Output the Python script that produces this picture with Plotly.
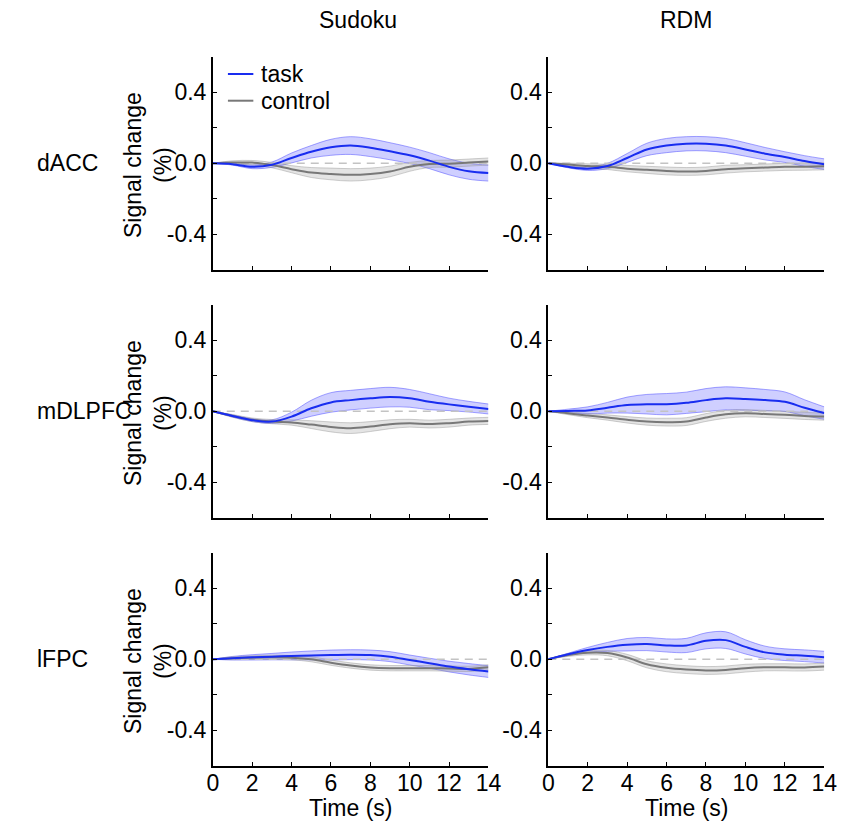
import plotly.graph_objects as go

# Time axis (s) and tick labels
time = list(range(15))
x_ticks = [0, 2, 4, 6, 8, 10, 12, 14]
y_ticks = [-0.4, -0.2, 0.0, 0.2, 0.4]
y_tick_labels = ["-0.4", "", "0.0", "", "0.4"]

tasks = ["Sudoku", "RDM"]
regions = ["dACC", "mDLPFC", "lFPC"]
series_names = ["task", "control"]

# dACC
dacc_sudoku_task = [0, -0.005, -0.02, -0.008, 0.03, 0.065, 0.09, 0.10, 0.088, 0.068, 0.045, 0.015, -0.02, -0.045, -0.055]
dacc_sudoku_task_sem = [0, 0.005, 0.01, 0.015, 0.028, 0.035, 0.045, 0.05, 0.05, 0.048, 0.046, 0.045, 0.045, 0.045, 0.045]
dacc_sudoku_ctrl = [0, 0.004, 0.004, -0.01, -0.033, -0.052, -0.06, -0.065, -0.06, -0.046, -0.02, -0.004, -0.002, 0.004, 0.01]
dacc_sudoku_ctrl_sem = [0, 0.01, 0.012, 0.015, 0.02, 0.028, 0.033, 0.035, 0.033, 0.03, 0.025, 0.02, 0.02, 0.02, 0.02]

dacc_rdm_task = [0, -0.02, -0.03, -0.015, 0.03, 0.078, 0.10, 0.11, 0.11, 0.10, 0.078, 0.054, 0.035, 0.013, -0.005]
dacc_rdm_task_sem = [0, 0.005, 0.01, 0.015, 0.025, 0.035, 0.04, 0.04, 0.04, 0.04, 0.038, 0.035, 0.03, 0.03, 0.03]
dacc_rdm_ctrl = [0, -0.007, -0.015, -0.02, -0.03, -0.037, -0.043, -0.046, -0.043, -0.033, -0.028, -0.024, -0.02, -0.019, -0.017]
dacc_rdm_ctrl_sem = [0, 0.008, 0.012, 0.015, 0.018, 0.02, 0.022, 0.022, 0.022, 0.022, 0.02, 0.02, 0.02, 0.02, 0.02]

# mDLPFC
mdlpfc_sudoku_task = [0, -0.026, -0.05, -0.058, -0.03, 0.017, 0.05, 0.063, 0.073, 0.08, 0.073, 0.054, 0.039, 0.026, 0.013]
mdlpfc_sudoku_task_sem = [0, 0.006, 0.008, 0.01, 0.025, 0.045, 0.055, 0.055, 0.055, 0.055, 0.05, 0.045, 0.035, 0.03, 0.028]
mdlpfc_sudoku_ctrl = [0, -0.026, -0.048, -0.058, -0.063, -0.075, -0.088, -0.095, -0.086, -0.073, -0.067, -0.072, -0.067, -0.058, -0.054]
mdlpfc_sudoku_ctrl_sem = [0, 0.008, 0.01, 0.012, 0.015, 0.022, 0.028, 0.03, 0.028, 0.025, 0.022, 0.022, 0.022, 0.02, 0.02]

mdlpfc_rdm_task = [0, 0.002, 0.005, 0.02, 0.035, 0.04, 0.04, 0.048, 0.063, 0.073, 0.069, 0.063, 0.054, 0.02, -0.01]
mdlpfc_rdm_task_sem = [0, 0.01, 0.02, 0.03, 0.045, 0.055, 0.06, 0.06, 0.065, 0.065, 0.063, 0.06, 0.055, 0.045, 0.035]
mdlpfc_rdm_ctrl = [0, -0.011, -0.024, -0.035, -0.048, -0.058, -0.061, -0.058, -0.035, -0.017, -0.011, -0.015, -0.02, -0.026, -0.03]
mdlpfc_rdm_ctrl_sem = [0, 0.008, 0.012, 0.015, 0.018, 0.02, 0.022, 0.022, 0.022, 0.022, 0.02, 0.02, 0.02, 0.02, 0.02]

# lFPC
lfpc_sudoku_task = [0, 0.006, 0.011, 0.015, 0.019, 0.022, 0.024, 0.026, 0.024, 0.015, -0.004, -0.022, -0.041, -0.056, -0.069]
lfpc_sudoku_task_sem = [0, 0.01, 0.015, 0.018, 0.022, 0.025, 0.028, 0.028, 0.028, 0.028, 0.028, 0.028, 0.03, 0.032, 0.033]
lfpc_sudoku_ctrl = [0, 0.006, 0.009, 0.011, 0.009, 0.0, -0.019, -0.035, -0.046, -0.05, -0.05, -0.05, -0.052, -0.054, -0.045]
lfpc_sudoku_ctrl_sem = [0, 0.008, 0.01, 0.012, 0.012, 0.014, 0.015, 0.015, 0.015, 0.015, 0.015, 0.015, 0.015, 0.015, 0.015]

lfpc_rdm_task = [0, 0.028, 0.052, 0.07, 0.082, 0.086, 0.078, 0.078, 0.104, 0.108, 0.07, 0.039, 0.026, 0.02, 0.012]
lfpc_rdm_task_sem = [0, 0.006, 0.015, 0.025, 0.035, 0.037, 0.037, 0.04, 0.045, 0.047, 0.04, 0.035, 0.033, 0.033, 0.033]
lfpc_rdm_ctrl = [0, 0.024, 0.037, 0.035, 0.01, -0.028, -0.048, -0.058, -0.063, -0.06, -0.05, -0.045, -0.045, -0.046, -0.041]
lfpc_rdm_ctrl_sem = [0, 0.008, 0.012, 0.015, 0.018, 0.02, 0.022, 0.022, 0.022, 0.022, 0.022, 0.02, 0.02, 0.02, 0.02]

panels = [
    (dacc_sudoku_task, dacc_sudoku_task_sem, dacc_sudoku_ctrl, dacc_sudoku_ctrl_sem),
    (dacc_rdm_task, dacc_rdm_task_sem, dacc_rdm_ctrl, dacc_rdm_ctrl_sem),
    (mdlpfc_sudoku_task, mdlpfc_sudoku_task_sem, mdlpfc_sudoku_ctrl, mdlpfc_sudoku_ctrl_sem),
    (mdlpfc_rdm_task, mdlpfc_rdm_task_sem, mdlpfc_rdm_ctrl, mdlpfc_rdm_ctrl_sem),
    (lfpc_sudoku_task, lfpc_sudoku_task_sem, lfpc_sudoku_ctrl, lfpc_sudoku_ctrl_sem),
    (lfpc_rdm_task, lfpc_rdm_task_sem, lfpc_rdm_ctrl, lfpc_rdm_ctrl_sem),
]

W, H = 849, 822
FONT = "Liberation Sans, Arial, Helvetica, sans-serif"
FS = 23

TASK_LINE = "rgb(25,45,240)"
TASK_FILL = "rgba(70,70,255,0.26)"
TASK_EDGE = "rgba(90,90,255,0.55)"
CTRL_LINE = "rgb(120,120,120)"
CTRL_FILL = "rgba(150,150,150,0.26)"
CTRL_EDGE = "rgba(150,150,150,0.45)"
ZERO_LINE = "rgb(195,195,195)"

# plot-area boxes in pixels
col_px = [(211.5, 493.5), (554.7, 837.0)]
row_px = [(56.8, 269.8), (304.8, 517.8), (552.8, 765.8)]
title_cx = [360, 696]
xlabel_cx = [352.5, 696]

fig = go.Figure()
layout = {}


def band(x, mean, sem, xa, ya, fill, edge):
    lo = [m - s for m, s in zip(mean, sem)]
    hi = [m + s for m, s in zip(mean, sem)]
    fig.add_trace(go.Scatter(x=x, y=lo, mode="lines", xaxis=xa, yaxis=ya,
                             line=dict(color=edge, width=1, shape="spline", smoothing=1),
                             showlegend=False, hoverinfo="skip"))
    fig.add_trace(go.Scatter(x=x, y=hi, mode="lines", xaxis=xa, yaxis=ya, fill="tonexty",
                             fillcolor=fill,
                             line=dict(color=edge, width=1, shape="spline", smoothing=1),
                             showlegend=False, hoverinfo="skip"))


for i, (t_mean, t_sem, c_mean, c_sem) in enumerate(panels):
    r, c = divmod(i, 2)
    n = "" if i == 0 else str(i + 1)
    xa, ya = "x" + n, "y" + n

    band(time, t_mean, t_sem, xa, ya, TASK_FILL, TASK_EDGE)
    band(time, c_mean, c_sem, xa, ya, CTRL_FILL, CTRL_EDGE)

    fig.add_trace(go.Scatter(x=[time[0], time[-1]], y=[0, 0], mode="lines", xaxis=xa, yaxis=ya,
                             line=dict(color=ZERO_LINE, width=1.5, dash="8px,6px"),
                             showlegend=False, hoverinfo="skip"))
    fig.add_trace(go.Scatter(x=time, y=c_mean, mode="lines", xaxis=xa, yaxis=ya, name="control",
                             line=dict(color=CTRL_LINE, width=2, shape="spline", smoothing=1),
                             showlegend=False))
    fig.add_trace(go.Scatter(x=time, y=t_mean, mode="lines", xaxis=xa, yaxis=ya, name="task",
                             line=dict(color=TASK_LINE, width=2, shape="spline", smoothing=1),
                             showlegend=False))

    x0, x1 = col_px[c]
    y0, y1 = row_px[r]
    axis_common = dict(showline=True, linecolor="black", linewidth=1.5, showgrid=False,
                       zeroline=False, ticks="inside", ticklen=4, tickwidth=1.2,
                       tickcolor="black", tickfont=dict(family=FONT, size=FS, color="black"))
    layout["xaxis" + n] = dict(axis_common, domain=[x0 / W, x1 / W], range=[0, 14],
                               tickvals=x_ticks, showticklabels=(r == 2), anchor=ya,
                               ticklabelstandoff=-4)
    layout["yaxis" + n] = dict(axis_common, domain=[1 - y1 / H, 1 - y0 / H], range=[-0.6, 0.6],
                               tickvals=y_ticks, ticktext=y_tick_labels, anchor=xa)


def text_at(text, px, py, xanchor="center", angle=0):
    return dict(text=text, x=px / W, y=1 - py / H, xref="paper", yref="paper",
                xanchor=xanchor, yanchor="middle", textangle=angle, showarrow=False,
                font=dict(family=FONT, size=FS, color="black"))


annotations = []
for c, name in enumerate(tasks):
    annotations.append(text_at(name, title_cx[c], 20))
    annotations.append(text_at("Time (s)", xlabel_cx[c], 808))
for r, name in enumerate(regions):
    zy = (row_px[r][0] + row_px[r][1]) / 2
    annotations.append(text_at(name, 30, zy, xanchor="left"))
    annotations.append(text_at("Signal change<br>(%)", 146, zy + 2, angle=-90))

# legend drawn inside the top-left panel: short line sample + label
shapes = []
legend_rows = [(series_names[0], TASK_LINE, 74), (series_names[1], CTRL_LINE, 100.7)]
for label, color, py in legend_rows:
    shapes.append(dict(type="line", xref="paper", yref="paper",
                       x0=227 / W, x1=253 / W, y0=1 - py / H, y1=1 - py / H,
                       line=dict(color=color, width=2)))
    annotations.append(text_at(label, 259, py, xanchor="left"))

fig.update_layout(
    width=W, height=H,
    margin=dict(l=0, r=0, t=0, b=0),
    paper_bgcolor="white", plot_bgcolor="white",
    showlegend=False,
    annotations=annotations,
    shapes=shapes,
    **layout,
)

fig.write_html("out.html")
